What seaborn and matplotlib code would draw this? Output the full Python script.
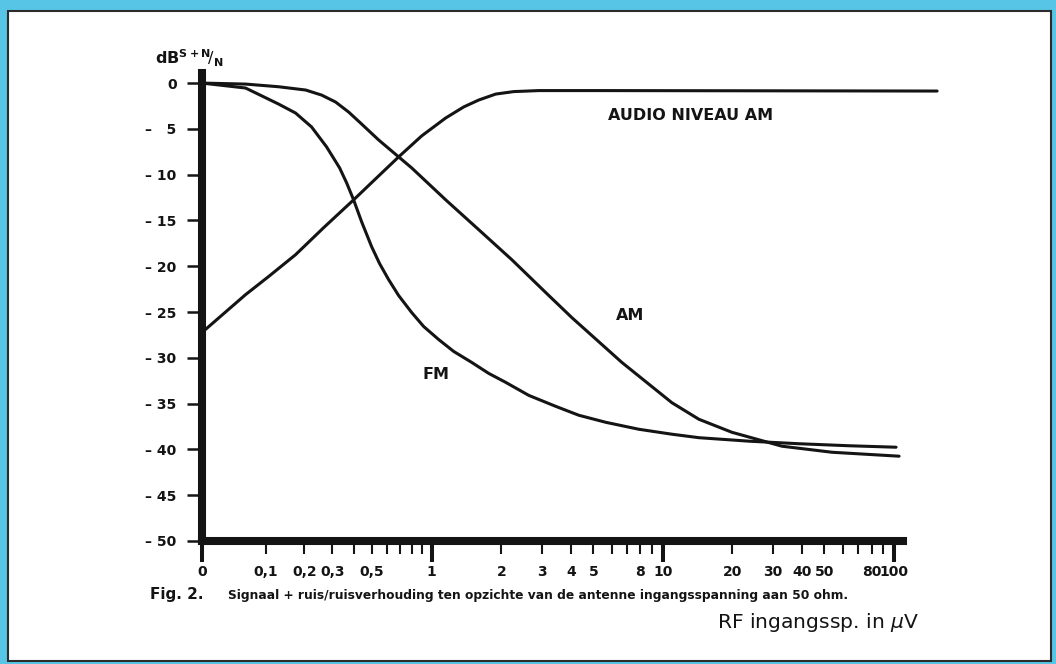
import numpy as np
import pandas as pd
import matplotlib
matplotlib.use("Agg")
import matplotlib.pyplot as plt
import seaborn as sns
from matplotlib.patches import Rectangle

# ---------------- data ----------------
fm_uv = [0, 0.0614, 0.1292, 0.1739, 0.2235, 0.2778, 0.3319, 0.364, 0.3985, 0.4409,
         0.4989, 0.5498, 0.612, 0.688, 0.7988, 0.9147, 1.072, 1.245, 1.49, 1.765,
         2.091, 2.63, 3.442, 4.329, 5.665, 7.874, 10.94, 14.32, 23.57, 38.79, 63.86, 102.0]
fm_db = [0, -0.54, -2.29, -3.27, -4.79, -6.97, -9.26, -10.89, -12.75, -15.14,
         -17.86, -19.72, -21.46, -23.2, -25.05, -26.58, -28.0, -29.3, -30.5, -31.7,
         -32.68, -34.1, -35.3, -36.27, -37.04, -37.8, -38.34, -38.72, -39.1, -39.38, -39.6, -39.76]

am_uv = [0, 0.0614, 0.1292, 0.2043, 0.2588, 0.3145, 0.3736, 0.4409, 0.5432, 0.688,
         0.7988, 1.15, 1.598, 2.22, 3.116, 4.036, 6.646, 10.94, 14.32, 19.89,
         32.74, 53.9, 105.1]
am_db = [0, -0.11, -0.4, -0.76, -1.31, -2.07, -3.16, -4.47, -6.21, -8.06,
         -9.26, -12.75, -16.01, -19.28, -22.88, -25.6, -30.5, -34.9, -36.71, -38.13,
         -39.65, -40.31, -40.74]

audio_uv = [0, 0.0614, 0.1062, 0.1739, 0.2661, 0.3985, 0.5302, 0.688,
            0.8944, 1.15, 1.375, 1.598, 1.893, 2.265, 2.905, 5.284, 153.5]
audio_db = [-27.23, -23.1, -21.13, -18.74, -15.8, -12.75, -10.35, -8.06,
            -5.77, -3.81, -2.61, -1.85, -1.2, -0.93, -0.82, -0.82, -0.87]

ytick_vals = [0, -5, -10, -15, -20, -25, -30, -35, -40, -45, -50]
ytick_labels = ["0", "– \u20075", "– 10", "– 15", "– 20", "– 25", "– 30", "– 35",
                "– 40", "– 45", "– 50"]

xtick_vals = [0, 0.1, 0.2, 0.3, 0.4, 0.5, 0.6, 0.7, 0.8, 0.9, 1,
              2, 3, 4, 5, 6, 7, 8, 9, 10,
              20, 30, 40, 50, 60, 70, 80, 90, 100]
xtick_labels = ["0", "0,1", "0,2", "0,3", "", "0,5", "", "", "", "", "1",
                "2", "3", "4", "5", "", "", "8", "", "10",
                "20", "30", "40", "50", "", "", "80", "", "100"]
xtick_long = [0, 1, 10, 100]

caption = "Signaal + ruis/ruisverhouding ten opzichte van de antenne ingangsspanning aan 50 ohm."

# ---------------- scale: compressed log below 1 µV, pure log above ----------------
C = 0.113


def fwd(x):
    x = np.asarray(x, dtype=float)
    with np.errstate(all="ignore"):
        lo = np.log10(np.maximum(x + C, 1e-9) / (1 + C))
        hi = np.log10(np.where(x > 0, x, 1.0))
    return np.where(x < 1, lo, hi)


def inv(u):
    u = np.asarray(u, dtype=float)
    return np.where(u < 0, (1 + C) * 10.0 ** u - C, 10.0 ** u)


# ---------------- figure ----------------
sns.set_theme(style="white")
plt.rcParams["font.family"] = ["DejaVu Sans"]
plt.rcParams["mathtext.fontset"] = "dejavusans"

W, H = 1056, 664
CYAN = "#56c5e6"
INK = "#141414"

fig = plt.figure(figsize=(W / 100, H / 100), dpi=100, facecolor=CYAN)
fig.patches.append(Rectangle((8 / W, 1 - 661 / H), (1051 - 8) / W, (661 - 11) / H,
                             transform=fig.transFigure, facecolor="white",
                             edgecolor="#2b2b2b", lw=1.5, zorder=-10))

ax = fig.add_axes([202 / W, 1 - 541 / H, (903 - 202) / W, (541 - 73) / H])
ax.set_facecolor("none")

df = pd.concat([
    pd.DataFrame({"uV": fm_uv, "dB": fm_db, "curve": "FM"}),
    pd.DataFrame({"uV": am_uv, "dB": am_db, "curve": "AM"}),
    pd.DataFrame({"uV": audio_uv, "dB": audio_db, "curve": "AUDIO"}),
], ignore_index=True)

sns.lineplot(data=df, x="uV", y="dB", hue="curve", units="curve", estimator=None,
             palette={"FM": INK, "AM": INK, "AUDIO": INK}, legend=False,
             linewidth=2.2, clip_on=False, ax=ax, sort=True)
for ln in ax.lines:
    ln.set_solid_capstyle("round")
    ln.set_solid_joinstyle("round")

ax.set_xscale("function", functions=(fwd, inv))
ax.set_xlim(0, 109.3)
ax.set_ylim(-50, 1.1)
ax.set_xlabel("")
ax.set_ylabel("")

for s in ["top", "right"]:
    ax.spines[s].set_visible(False)
for s in ["left", "bottom"]:
    ax.spines[s].set_linewidth(5.8)
    ax.spines[s].set_color(INK)
    ax.spines[s].set_capstyle("projecting")

ax.set_yticks(ytick_vals, labels=ytick_labels, fontsize=10, fontweight="bold", color=INK)
ax.tick_params(axis="y", which="major", direction="out", length=10.8, width=1.8,
               pad=7.5, color=INK, left=True)

ax.set_xticks(xtick_vals, labels=xtick_labels, fontsize=10, fontweight="bold", color=INK)
ax.set_xticks(xtick_long, minor=True)
ax.xaxis.remove_overlapping_locs = False
ax.tick_params(axis="x", which="major", direction="out", length=9.4, width=1.5,
               pad=8.0, color=INK, bottom=True)
ax.tick_params(axis="x", which="minor", direction="out", length=15, width=2.9,
               color=INK, bottom=True, labelbottom=False)
ax.grid(False)

# curve labels
ax.text(13.2, -3.5, "AUDIO NIVEAU AM", ha="center", va="center",
        fontsize=11.5, fontweight="bold", color=INK)
ax.text(7.2, -25.4, "AM", ha="center", va="center", fontsize=11.5,
        fontweight="bold", color=INK)
ax.text(1.04, -31.8, "FM", ha="center", va="center", fontsize=11.5,
        fontweight="bold", color=INK)

# figure texts
fig.text(155 / W, 1 - 58 / H, r"$\mathbf{dB}^{\mathbf{S+N}}\!/_{\mathbf{N}}$",
         fontsize=11.5, va="center", ha="left", color=INK)
fig.text(150 / W, 1 - 594 / H, "Fig. 2.", fontsize=11, fontweight="bold",
         va="center", ha="left", color=INK)
fig.text(228 / W, 1 - 595 / H, caption, fontsize=8.85, fontweight="bold",
         va="center", ha="left", color=INK)
fig.text(717 / W, 1 - 622 / H, r"RF ingangssp. in $\mu$V", fontsize=14.6,
         va="center", ha="left", color=INK)

fig.savefig("out.png", dpi=100, facecolor=CYAN)
